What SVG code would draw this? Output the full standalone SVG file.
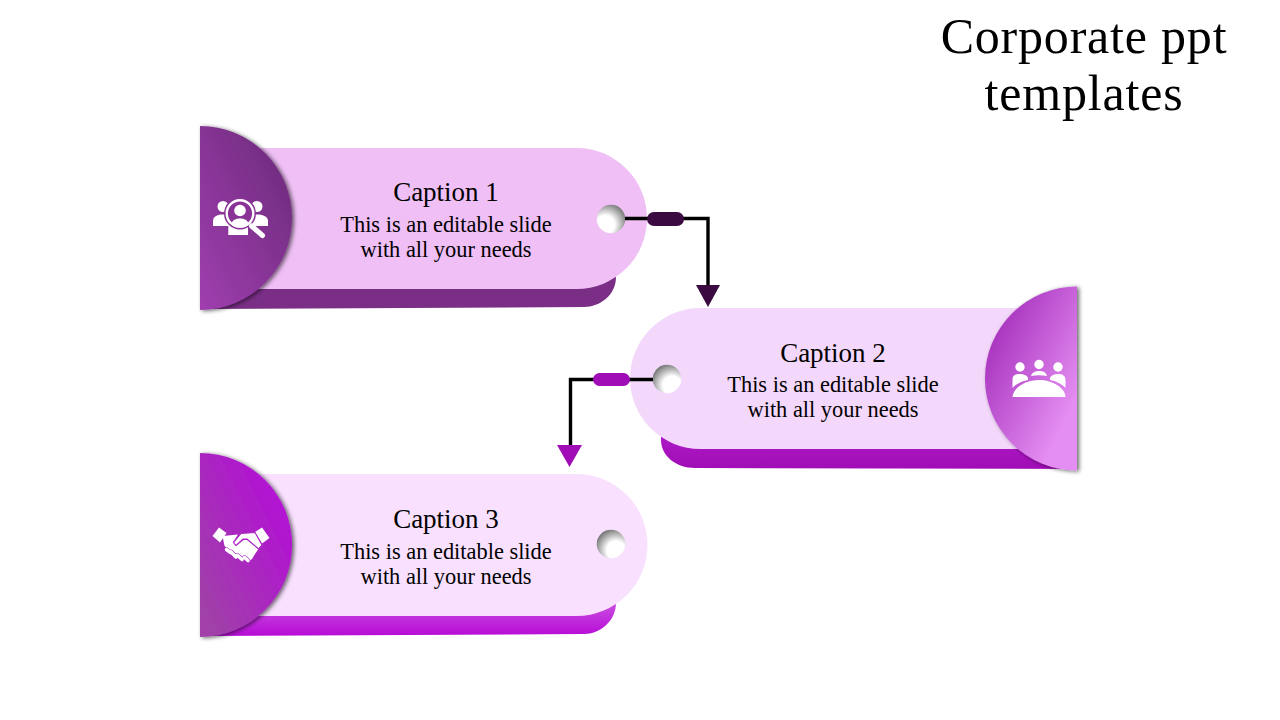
<svg xmlns="http://www.w3.org/2000/svg" width="1280" height="720" viewBox="0 0 1280 720">
<style>
text{font-family:"Liberation Serif","Times New Roman",serif;fill:#000;text-anchor:middle}
.t{font-size:50px;letter-spacing:.8px}
.c{font-size:27px}
.b{font-size:22.400px}
.i{fill:#fff}
.w{fill:none;stroke:#000;stroke-width:3.400}
.s{filter:url(#sh)}
</style>
<defs>
<filter id="sh" x="-20%" y="-20%" width="140%" height="140%"><feDropShadow dx="2" dy="1" stdDeviation="2" flood-color="#000" flood-opacity=".6"/></filter>
<linearGradient id="c1" x1="0" y1="1" x2="1" y2="0"><stop offset="0" stop-color="#A03EB0"/><stop offset="1" stop-color="#6A2A78"/></linearGradient>
<linearGradient id="c2" x1="0" y1="0" x2="1" y2="1"><stop offset=".1" stop-color="#A22AB9"/><stop offset=".8" stop-color="#E48DF2"/></linearGradient>
<linearGradient id="c3" x1="0" y1="1" x2="1" y2="0"><stop offset=".1" stop-color="#A040A8"/><stop offset=".85" stop-color="#B30FD6"/></linearGradient>
<linearGradient id="b2" x1="0" y1="0" x2="0" y2="1"><stop offset="0" stop-color="#B01CC8"/><stop offset="1" stop-color="#A00DB6"/></linearGradient>
<linearGradient id="b3" x1="0" y1="0" x2="0" y2="1"><stop offset="0" stop-color="#CF5FE4"/><stop offset="1" stop-color="#B70BD6"/></linearGradient>
<radialGradient id="h1" cx=".3" cy=".7" r=".85"><stop offset=".38" stop-color="#fff"/><stop offset=".95" stop-color="#6f6f6f"/></radialGradient>
<radialGradient id="h2" cx=".68" cy=".72" r=".85"><stop offset=".38" stop-color="#fff"/><stop offset=".95" stop-color="#6a6a6a"/></radialGradient>
</defs>

<text class="t" x="1084" y="53">Corporate ppt</text>
<text class="t" x="1084" y="110">templates</text>

<g id="node-1">
<path d="M205 270H616V277C616 295 600 307 584 307L205 309Z" fill="#7A2E86"/>
<path d="M200 148H576.500A70.500 70.500 0 0 1 576.500 289H200Z" fill="#EFBFF5"/>
<circle cx="611" cy="219" r="14.300" fill="url(#h1)"/>
<path class="s" d="M200 126A92 92 0 0 1 200 310Z" fill="url(#c1)"/>
<g class="i">
<circle cx="223" cy="206.500" r="5.500"/><circle cx="257" cy="206.500" r="5.500"/>
<path d="M213 226V221C213 216 218 214.500 223 214.500H240V226Z"/>
<path d="M268 226V221C268 216 262 214.500 257 214.500H240V226Z"/>
<path d="M228.300 226H248V235H228.300Z"/>
<circle cx="240" cy="213.500" r="16" fill="#893397"/>
<circle cx="240" cy="213.500" r="13.300" fill="none" stroke="#fff" stroke-width="2.400"/>
<circle cx="240" cy="210.500" r="5.800"/>
<path d="M231.500 224C232 220 236 218.500 240 218.500C244 218.500 248 220 248.500 224C245.500 226.500 243 227 240 227C237 227 234 226.500 231.500 224Z"/>
<path d="M251.500 226L262.500 235.500" fill="none" stroke="#fff" stroke-width="5" stroke-linecap="round"/>
</g>
<text class="c" x="446" y="200.500">Caption 1</text>
<text class="b" x="446" y="231.500">This is an editable slide</text>
<text class="b" x="446" y="256.500">with all your needs</text>
</g>

<g id="node-2">
<path d="M661 430H1075V469L695 468C675 468 661 455 661 440Z" fill="url(#b2)"/>
<path d="M1077 308H700.500A70.500 70.500 0 0 0 700.500 449H1077Z" fill="#F4D8FB"/>
<circle cx="667" cy="379" r="14.300" fill="url(#h2)"/>
<path class="s" d="M1077 286.500A92 92 0 0 0 1077 470.500Z" fill="url(#c2)"/>
<g class="i">
<circle cx="1020" cy="367" r="4.700"/><circle cx="1039" cy="364.500" r="4.700"/><circle cx="1058" cy="367" r="4.700"/>
<path d="M1012.500 388V380C1012.500 375 1016 374 1020 374C1023 374 1027 375 1028 378V380C1022 381 1016 384 1012.500 388Z"/>
<path d="M1031 376C1032 372 1036 371 1039 371C1043 371 1046 372 1047 376C1042 375 1036 375 1031 376Z"/>
<path d="M1065.500 388V380C1065.500 375 1062 374 1058 374C1055 374 1051 375 1050 378V380C1056 381 1062 384 1065.500 388Z"/>
<path d="M1012.500 397C1013 388 1025 380 1039 380C1053 380 1065 388 1065.500 397Z"/>
</g>
<text class="c" x="833" y="361.500">Caption 2</text>
<text class="b" x="833" y="391.500">This is an editable slide</text>
<text class="b" x="833" y="416.500">with all your needs</text>
</g>

<g id="node-3">
<path d="M205 595H616V603C616 621 600 634 584 634L205 636Z" fill="url(#b3)"/>
<path d="M200 474H576.500A71 71 0 0 1 576.500 616H200Z" fill="#F8E0FE"/>
<circle cx="611" cy="544" r="14.300" fill="url(#h2)"/>
<path class="s" d="M200 453A92 92 0 0 1 200 637Z" fill="url(#c3)"/>
<g class="i">
<path d="M212.500 536L219 527.500L226.500 533L220 542.500Z"/>
<path d="M262 527.500L269.500 538L262 543.500L255 532Z"/>
<path d="M222.500 536L238 534.500L233 542L236 546L243.500 540L247 540L258.500 549L255 554L252 559L249 561L240 556L230 550L224.500 546Z"/>
<path d="M241 533.500L255 532.500L262 545L258.500 549L247 539L243 539L236 545.500L233.500 542.500Z" stroke="#AC25C4" stroke-width="1.100"/>
<path d="M226.500 549.500L230.500 552.500M231 552L236 557M237.500 555.500L242 559.500M244.500 557.500L248 560.500" fill="none" stroke="#AC25C4" stroke-width="4.600" stroke-linecap="round"/>
<path d="M226.500 549.500L230.500 552.500M231 552L236 557M237.500 555.500L242 559.500M244.500 557.500L248 560.500" fill="none" stroke="#fff" stroke-width="3.600" stroke-linecap="round"/>
</g>
<text class="c" x="446" y="527.500">Caption 3</text>
<text class="b" x="446" y="558.500">This is an editable slide</text>
<text class="b" x="446" y="583.500">with all your needs</text>
</g>

<g id="connectors">
<path class="w" d="M625 218.500H708V288"/>
<rect x="647" y="212" width="37" height="14" rx="7" fill="#3A0A40"/>
<path d="M696 285H720L708 307Z" fill="#3A0A40"/>
<path class="w" d="M653 379.500H570.500V448"/>
<rect x="593" y="373" width="37" height="13" rx="6.500" fill="#A00DB6"/>
<path d="M557 445H582L569.500 467Z" fill="#A00DB6"/>
</g>
</svg>
